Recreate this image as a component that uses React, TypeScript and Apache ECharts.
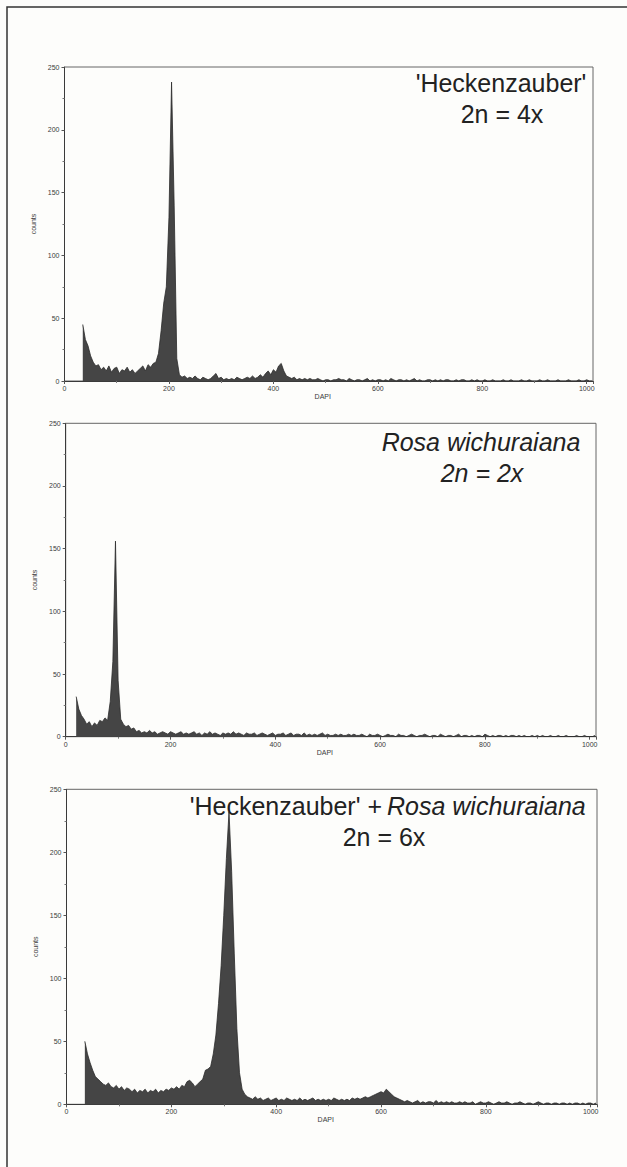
import React, { useEffect, useRef } from "react";
import * as echarts from "echarts";

// DAPI flow-cytometry histograms: channel bins of 5, counts per bin.
const CHANNEL_STEP = 5;
const DAPI_MAX = 1012;
const DAPI_INTERVAL = 200;
const COUNT_MAX = 250;
const COUNT_INTERVAL = 50;

// 'Heckenzauber' (2n = 4x), channels 35 .. 1010
const heckenStart = 35;
const heckenCounts = [
  45, 33, 28, 20, 15, 12, 13, 9, 11, 8, 12, 7, 10, 11, 6, 9, 8, 11, 7, 9,
  6, 8, 10, 12, 8, 13, 11, 14, 15, 22, 40, 62, 75, 130, 238, 140, 18, 5, 3, 4,
  2, 3, 2, 4, 2, 1, 3, 2, 1, 2, 4, 6, 2, 3, 1, 2, 1, 2, 1, 3,
  2, 1, 2, 3, 2, 4, 2, 3, 5, 3, 6, 8, 5, 9, 7, 12, 14, 8, 4, 3,
  2, 3, 1, 2, 1, 2, 1, 2, 1, 1, 2, 1, 0, 1, 1, 0, 1, 1, 2, 1,
  1, 0, 2, 1, 0, 1, 1, 0, 1, 2, 0, 1, 0, 1, 1, 0, 1, 0, 2, 1,
  0, 1, 1, 0, 1, 0, 1, 2, 0, 1, 0, 0, 1, 1, 0, 1, 0, 1, 0, 1,
  1, 0, 0, 1, 0, 1, 1, 0, 0, 1, 0, 1, 0, 0, 1, 0, 0, 1, 0, 0,
  0, 1, 0, 0, 1, 0, 0, 0, 1, 0, 0, 1, 0, 0, 0, 1, 0, 0, 1, 0,
  0, 0, 1, 0, 0, 0, 1, 0, 0, 0, 1, 0, 0, 1, 0, 0,
];

// Rosa wichuraiana (2n = 2x), channels 20 .. 1010
const wichuraianaStart = 20;
const wichuraianaCounts = [
  32, 22, 17, 14, 10, 12, 8, 11, 9, 13, 12, 15, 13, 28, 60, 156, 45, 14, 10, 8,
  9, 6, 7, 4, 5, 3, 4, 3, 5, 3, 4, 2, 3, 4, 3, 2, 4, 3, 2, 3,
  4, 2, 3, 2, 3, 4, 2, 3, 1, 3, 2, 4, 2, 3, 2, 1, 3, 2, 3, 2,
  4, 2, 3, 2, 1, 3, 2, 2, 3, 1, 2, 3, 2, 1, 2, 3, 1, 2, 2, 3,
  1, 2, 3, 1, 2, 2, 1, 3, 1, 2, 1, 2, 1, 2, 3, 1, 2, 1, 1, 2,
  1, 2, 1, 1, 2, 1, 2, 1, 1, 2, 1, 0, 2, 1, 1, 2, 1, 0, 1, 2,
  1, 1, 0, 2, 1, 1, 0, 1, 2, 1, 0, 1, 1, 2, 1, 0, 1, 1, 0, 2,
  1, 0, 1, 1, 0, 1, 2, 0, 1, 1, 0, 1, 0, 1, 1, 0, 2, 1, 0, 1,
  0, 1, 1, 0, 1, 0, 1, 1, 0, 1, 0, 1, 0, 0, 1, 0, 1, 0, 1, 0,
  0, 1, 0, 0, 1, 0, 0, 1, 0, 0, 0, 1, 0, 0, 1, 0, 0, 0, 1,
];

// 'Heckenzauber' + Rosa wichuraiana (2n = 6x), channels 35 .. 1010
const hybridStart = 35;
const hybridCounts = [
  50, 40, 33, 27, 22, 20, 18, 16, 15, 17, 14, 13, 15, 12, 14, 11, 13, 12, 10, 12,
  9, 11, 10, 12, 9, 11, 10, 12, 9, 11, 10, 12, 11, 13, 12, 14, 12, 15, 14, 18,
  19, 17, 14, 16, 18, 20, 27, 28, 30, 40, 55, 80, 110, 150, 195, 232, 185, 120, 60, 25,
  12, 8, 6, 5, 4, 6, 4, 5, 3, 4, 5, 3, 4, 5, 3, 4, 3, 5, 4, 3,
  4, 3, 5, 3, 4, 3, 4, 5, 3, 4, 3, 4, 3, 4, 3, 5, 4, 3, 4, 3,
  4, 3, 5, 4, 5, 4, 5, 6, 5, 6, 7, 8, 9, 10, 9, 12, 10, 8, 6, 5,
  4, 3, 2, 3, 2, 1, 2, 3, 1, 2, 1, 2, 2, 1, 3, 1, 2, 1, 2, 1,
  2, 1, 1, 2, 1, 2, 1, 1, 2, 0, 1, 2, 1, 1, 2, 1, 0, 1, 2, 1,
  1, 2, 1, 0, 1, 1, 2, 1, 0, 1, 1, 0, 1, 2, 1, 0, 1, 1, 0, 1,
  1, 0, 1, 1, 0, 1, 0, 1, 1, 0, 1, 0, 1, 1, 0, 1,
];

const toPoints = (start: number, counts: number[]) =>
  counts.map((c, i) => [start + i * CHANNEL_STEP, c]);

const panels = [
  { start: heckenStart, counts: heckenCounts, grid: { left: 64.5, top: 67, width: 528.5, height: 314 } },
  { start: wichuraianaStart, counts: wichuraianaCounts, grid: { left: 65.7, top: 423.3, width: 530.3, height: 313.4 } },
  { start: hybridStart, counts: hybridCounts, grid: { left: 66.5, top: 789.3, width: 530.5, height: 315 } },
];

const FONT = "'Liberation Sans', Arial, sans-serif";
const TITLE_SIZE = 25;
const INK = "#222";
const AXIS_INK = "#3a3a3a";

export default function App() {
  const ref = useRef<HTMLDivElement>(null);

  useEffect(() => {
    if (!ref.current) return;
    const chart = echarts.init(ref.current, null, { renderer: "svg" });

    const titleText = (text: string, x: number, y: number, italic = false, align = "center") => ({
      type: "text",
      x,
      y,
      silent: true,
      style: {
        text,
        fill: INK,
        fontFamily: FONT,
        fontSize: TITLE_SIZE,
        fontStyle: italic ? "italic" : "normal",
        textAlign: align,
        textVerticalAlign: "middle",
      },
    });

    chart.setOption({
      animation: false,
      backgroundColor: "#fdfdfb",
      grid: panels.map((p) => ({
        ...p.grid,
        show: true,
        borderColor: "#666",
        borderWidth: 1,
        backgroundColor: "transparent",
        containLabel: false,
        outerBoundsMode: "none",
      })),
      xAxis: panels.map((_, i) => ({
        type: "value",
        gridIndex: i,
        min: 0,
        max: DAPI_MAX,
        interval: DAPI_INTERVAL,
        name: "DAPI",
        nameLocation: "middle",
        nameGap: 9,
        nameTextStyle: { fontSize: 7, color: AXIS_INK, fontFamily: FONT, padding: [0, 12, 0, 0] },
        axisLine: { show: true, onZero: false, lineStyle: { color: AXIS_INK, width: 1 } },
        axisTick: { show: true, length: 3, lineStyle: { color: "#555" } },
        minorTick: { show: true, splitNumber: 2, length: 2, lineStyle: { color: "#777" } },
        splitLine: { show: false },
        axisLabel: {
          fontSize: 7,
          color: AXIS_INK,
          fontFamily: FONT,
          margin: 4,
          formatter: (v: number) => (v % DAPI_INTERVAL === 0 ? String(v) : ""),
        },
      })),
      yAxis: panels.map((_, i) => ({
        type: "value",
        gridIndex: i,
        min: 0,
        max: COUNT_MAX,
        interval: COUNT_INTERVAL,
        name: "counts",
        nameLocation: "middle",
        nameGap: 20,
        nameTextStyle: { fontSize: 7, color: AXIS_INK, fontFamily: FONT },
        axisLine: { show: true, lineStyle: { color: AXIS_INK, width: 1 } },
        axisTick: { show: true, length: 3, lineStyle: { color: "#555" } },
        minorTick: { show: true, splitNumber: 2, length: 2, lineStyle: { color: "#777" } },
        splitLine: { show: false },
        axisLabel: { fontSize: 7, color: AXIS_INK, fontFamily: FONT, margin: 5 },
      })),
      series: panels.map((p, i) => ({
        type: "line",
        xAxisIndex: i,
        yAxisIndex: i,
        data: toPoints(p.start, p.counts),
        symbol: "none",
        silent: true,
        lineStyle: { color: "#2b2b2b", width: 0.8 },
        areaStyle: { color: "#454545", opacity: 1 },
      })),
      graphic: [
        {
          type: "rect",
          silent: true,
          shape: { x: 7, y: 7, width: 700, height: 1200 },
          style: { fill: "none", stroke: "#333", lineWidth: 1.5 },
        },
        titleText("'Heckenzauber'", 501, 82.5),
        titleText("2n = 4x", 502, 113.5),
        titleText("Rosa wichuraiana", 481, 442, true),
        titleText("2n = 2x", 482, 473, true),
        titleText("'Heckenzauber' +", 382, 805.5, false, "right"),
        titleText("Rosa wichuraiana", 387, 805.5, true, "left"),
        titleText("2n = 6x", 384, 837),
      ],
    });

    return () => chart.dispose();
  }, []);

  return (
    <div
      ref={ref}
      style={{ position: "absolute", left: 0, top: 0, width: 627, height: 1167 }}
    />
  );
}
